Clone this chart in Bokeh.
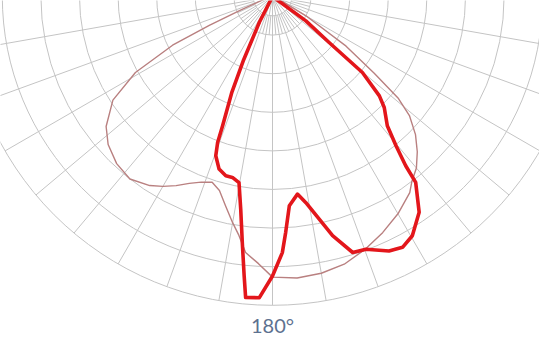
import numpy as np
from bokeh.plotting import figure
from bokeh.models import Range1d
from bokeh.core.properties import value
from bokeh.embed import file_html
from bokeh.resources import INLINE

# ---- data (intensity in grid-ring units; angle in degrees from nadir, + = right) ----
ring_values = [1, 2, 3, 4, 5, 6, 7, 8]
inner_ring_values = [0.5]
spoke_angles = list(range(-90, 91, 10))
fine_spoke_angles = list(range(-85, 86, 10))
label_text = ["180°"]

c0_angles = [-75, -70, -67, -65.5, -64, -61, -57, -52, -48, -43, -38, -33, -30, -27,
             -24, -21, -18, -15.3, -12.7, -10, -8, -6, -3, 0, 5, 10, 15, 20, 25,
             30, 35, 37, 40, 43, 46, 49, 51, 53, 56, 60, 64, 70]
c0_values = [0, 0.3, 0.9, 1.8, 2.88, 4.06, 4.93, 5.47, 5.73, 5.92, 6.0, 5.84, 5.68, 5.5,
             5.3, 5.15, 5.06, 5.21, 5.55, 5.95, 6.25, 6.67, 6.93, 7.27, 7.32, 7.28, 7.18, 6.98, 6.75,
             6.5, 6.2, 6.0, 5.8, 5.5, 5.15, 4.7, 4.2, 3.3, 2.3, 1.0, 0.3, 0]

c90_angles = [-30, -27, -24.5, -23, -21.1, -20.6, -19.6, -17.2, -14.6, -12.5, -10.2, -8.5,
              -7.0, -5.8, -5.1, -2.5, 0, 2.2, 3.2, 4.6, 7.2, 9.2, 14.1, 17.4, 20.3, 24.6,
              27.4, 30.3, 34.2, 37.6, 38.2, 39.6, 41.6, 45.2, 47.1, 49.8, 50.9, 53.9, 57]
c90_values = [0, 0.75, 1.8, 2.69, 3.59, 4.04, 4.38, 4.68, 4.80, 4.80, 4.90, 5.57,
              6.42, 7.27, 7.83, 7.81, 7.24, 6.64, 6.12, 5.44, 5.16, 5.41, 6.39, 6.95, 6.98, 7.25,
              7.32, 7.18, 6.76, 6.08, 5.58, 5.02, 4.48, 4.08, 3.78, 3.05, 1.89, 1.07, 0]

# ---- layout ----
PX = 38.6          # pixels per ring
W, H = 539, 338
CX, CY = 272, -4   # center position relative to frame's left/top, in px
LABEL_PY = 324     # label middle, px from frame top


def polar_xy(angles, vals):
    th = np.radians(np.asarray(angles, dtype=float))
    r = np.asarray(vals, dtype=float)
    return r * np.sin(th), -r * np.cos(th)


p = figure(width=W, height=H, output_backend="svg", toolbar_location=None,
           x_axis_type=None, y_axis_type=None,
           x_range=Range1d(-CX / PX, (W - CX) / PX),
           y_range=Range1d((CY - H) / PX, CY / PX),
           min_border=0)
p.outline_line_color = None
p.background_fill_color = "white"
p.border_fill_color = "white"

grid_color = "#c4c4c4"
outer = max(ring_values)

# spokes
a = np.radians(spoke_angles)
p.segment(x0=0, y0=0, x1=outer * np.sin(a), y1=-outer * np.cos(a),
          line_color=grid_color, line_width=1)
fa = np.radians(fine_spoke_angles)
r0, r1 = inner_ring_values[0], ring_values[0]
p.segment(x0=r0 * np.sin(fa), y0=-r0 * np.cos(fa), x1=r1 * np.sin(fa), y1=-r1 * np.cos(fa),
          line_color=grid_color, line_width=1)

# rings
all_rings = inner_ring_values + ring_values
p.circle(x=[0] * len(all_rings), y=[0] * len(all_rings), radius=all_rings,
         fill_color=None, line_color=grid_color, line_width=1)

# curves
x0, y0 = polar_xy(c0_angles, c0_values)
p.line(x0, y0, line_color="#b98080", line_width=1.4, line_join="round")
x1, y1 = polar_xy(c90_angles, c90_values)
p.line(x1, y1, line_color="#e3161b", line_width=3.6, line_join="round")

# label
p.text(x=[0], y=[(CY - LABEL_PY) / PX], text=label_text, text_align="center",
       text_baseline="middle", text_font=value("Lato"), text_font_size="20px",
       text_color="#5d7190")

open("out.html", "w").write(file_html(p, INLINE))
